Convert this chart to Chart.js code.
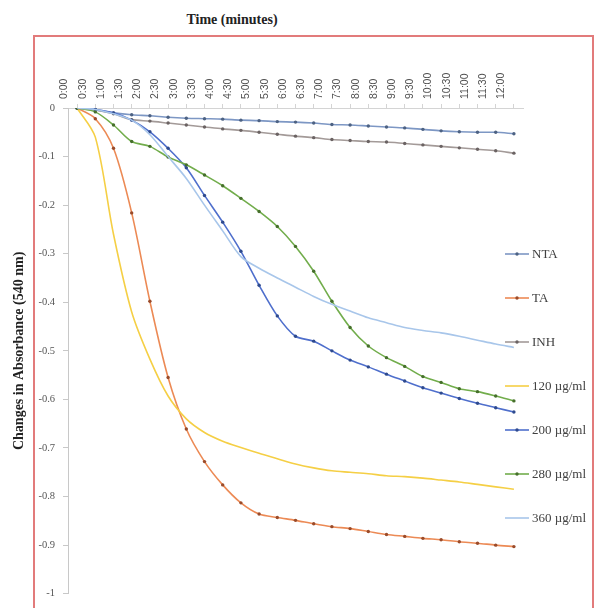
<!DOCTYPE html>
<html>
<head>
<meta charset="utf-8">
<script src="https://cdn.jsdelivr.net/npm/chart.js@4/dist/chart.umd.min.js"></script>
<style>
  body { margin: 0; background: #fff; }
  #wrap { position: relative; width: 595px; height: 608px; overflow: hidden; }
  #chart { position: absolute; left: 0; top: 0; }
  .frame {
    position: absolute; left: 33px; top: 35px; width: 557px; height: 580px;
    border: 2px solid #e27b7b; pointer-events: none;
  }
  .title {
    position: absolute; left: 132px; top: 12px; width: 200px; text-align: center;
    font: bold 14px "Liberation Serif", serif; color: #222;
  }
</style>
</head>
<body>
<div id="wrap">
  <div class="title">Time (minutes)</div>
  <canvas id="chart" width="595" height="608"></canvas>
  <div class="frame"></div>
</div>
<script>
// Data
const times = ["0:00", "0:30", "1:00", "1:30", "2:00", "2:30", "3:00", "3:30", "4:00",
  "4:30", "5:00", "5:30", "6:00", "6:30", "7:00", "7:30", "8:00", "8:30", "9:00",
  "9:30", "10:00", "10:30", "11:00", "11:30", "12:00"];
const yTicks = [0, -0.1, -0.2, -0.3, -0.4, -0.5, -0.6, -0.7, -0.8, -0.9, -1];

const nta = [0, -0.004, -0.01, -0.014, -0.016, -0.019, -0.021, -0.022, -0.023, -0.025,
  -0.026, -0.028, -0.029, -0.031, -0.034, -0.035, -0.037, -0.039, -0.041, -0.044,
  -0.047, -0.049, -0.05, -0.05, -0.053];
const ta = [0, -0.022, -0.083, -0.216, -0.398, -0.555, -0.661, -0.728, -0.776, -0.813,
  -0.836, -0.843, -0.849, -0.856, -0.862, -0.866, -0.872, -0.878, -0.882, -0.886,
  -0.889, -0.893, -0.896, -0.9, -0.903];
const inh = [0, -0.004, -0.012, -0.024, -0.027, -0.031, -0.035, -0.039, -0.043, -0.046,
  -0.05, -0.054, -0.058, -0.061, -0.065, -0.067, -0.069, -0.07, -0.073, -0.076,
  -0.079, -0.082, -0.085, -0.088, -0.093];
const c120 = [0, -0.06, -0.26, -0.42, -0.517, -0.593, -0.64, -0.668, -0.686, -0.699,
  -0.711, -0.722, -0.733, -0.741, -0.747, -0.75, -0.753, -0.757, -0.759, -0.762,
  -0.766, -0.77, -0.775, -0.78, -0.785];
const c200 = [0, -0.003, -0.01, -0.025, -0.049, -0.083, -0.123, -0.18, -0.235, -0.295,
  -0.365, -0.428, -0.47, -0.48, -0.5, -0.519, -0.533, -0.548, -0.562, -0.576,
  -0.587, -0.598, -0.608, -0.617, -0.626];
const c280 = [0, -0.008, -0.035, -0.069, -0.079, -0.101, -0.117, -0.138, -0.16, -0.186,
  -0.213, -0.244, -0.285, -0.336, -0.398, -0.452, -0.49, -0.514, -0.532, -0.553,
  -0.565, -0.578, -0.584, -0.593, -0.603];
const c360 = [0, -0.003, -0.012, -0.025, -0.055, -0.1, -0.145, -0.2, -0.253, -0.306,
  -0.33, -0.35, -0.369, -0.388, -0.404, -0.418, -0.432, -0.442, -0.452, -0.458,
  -0.463, -0.47, -0.478, -0.486, -0.493];

const seriesNames = ["NTA", "TA", "INH", "120 µg/ml", "200 µg/ml", "280 µg/ml", "360 µg/ml"];
const seriesData = [nta, ta, inh, c120, c200, c280, c360];
const lineColors = ["#7d97c4", "#ec8a55", "#a39a98", "#f5cf45", "#4f6fcc", "#72ad4c", "#a8c6ea"];
const markerColors = ["#4d6283", "#9a4b2a", "#6b6363", null, "#2e4a8e", "#466f2c", null];

function makeDataset(i) {
  const hasMarker = markerColors[i] !== null;
  return {
    label: seriesNames[i],
    data: seriesData[i],
    borderColor: lineColors[i],
    borderWidth: 1.6,
    tension: 0.3,
    pointRadius: hasMarker ? 1.7 : 0,
    pointBorderWidth: 0,
    pointBackgroundColor: markerColors[i] || lineColors[i],
    order: seriesNames.length - i,
  };
}

// legend drawn to the right, overlapping the plot edge like the original
const legendPlugin = {
  id: "sideLegend",
  afterDraw(chart) {
    const ctx = chart.ctx;
    const startY = 254;
    const gap = 44;
    ctx.save();
    chart.data.datasets.forEach((ds, i) => {
      const y = startY + gap * i;
      ctx.strokeStyle = ds.borderColor;
      ctx.lineWidth = 1.6;
      ctx.beginPath();
      ctx.moveTo(505, y);
      ctx.lineTo(529, y);
      ctx.stroke();
      if (ds.pointRadius > 0) {
        ctx.fillStyle = ds.pointBackgroundColor;
        ctx.beginPath();
        ctx.arc(517, y, 1.7, 0, Math.PI * 2);
        ctx.fill();
      }
      ctx.fillStyle = "#404040";
      ctx.font = '13px "Liberation Serif", serif';
      ctx.textBaseline = "middle";
      ctx.fillText(ds.label, 532, y + 1);
    });
    ctx.restore();
  },
};

new Chart(document.getElementById("chart"), {
  type: "line",
  data: {
    labels: times,
    datasets: seriesNames.map((_, i) => makeDataset(i)),
  },
  options: {
    responsive: false,
    animation: false,
    devicePixelRatio: 1,
    layout: { padding: { left: 0, top: 0, right: 72, bottom: 13 } },
    plugins: {
      legend: { display: false },
      tooltip: { enabled: false },
    },
    scales: {
      x: {
        type: "category",
        position: "top",
        offset: true,
        afterFit: (scale) => { scale.height = 108; },
        grid: { drawOnChartArea: false, tickLength: 4, color: "#d4d4d4" },
        border: { color: "#d4d4d4" },
        ticks: {
          autoSkip: false,
          minRotation: 90,
          maxRotation: 90,
          padding: 5,
          color: "#505050",
          font: { family: '"Liberation Sans", Arial, sans-serif', size: 10.5 },
        },
      },
      y: {
        min: -1,
        max: 0,
        afterFit: (scale) => { scale.width = 68; },
        afterBuildTicks: (scale) => { scale.ticks = yTicks.map((v) => ({ value: v })); },
        grid: { drawOnChartArea: false, tickLength: 5, color: "#c8c8c8" },
        border: { color: "#c8c8c8" },
        ticks: {
          padding: 8,
          color: "#555",
          font: { family: '"Liberation Serif", serif', size: 10.5 },
          callback: (v) => String(Math.round(v * 10) / 10),
        },
        title: {
          display: true,
          text: "Changes in Absorbance (540 nm)",
          color: "#222",
          padding: { top: 11, bottom: 0 },
          font: { family: '"Liberation Serif", serif', size: 14, weight: "bold" },
        },
      },
    },
  },
  plugins: [legendPlugin],
});
</script>
</body>
</html>
